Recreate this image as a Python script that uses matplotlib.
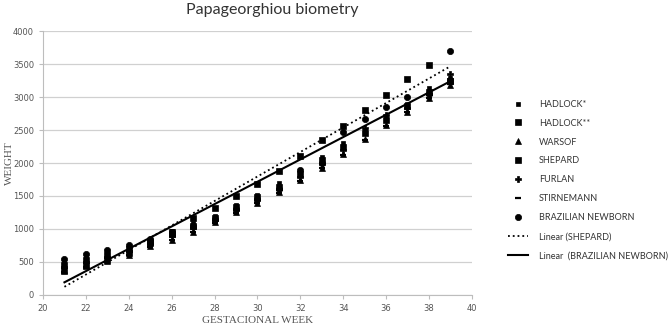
import numpy as np
import matplotlib
matplotlib.use("Agg")
import matplotlib.pyplot as plt

weeks = np.arange(21, 40)

hadlock1 = [480, 560, 640, 730, 840, 970, 1090, 1200, 1370, 1520, 1690, 1890, 2090, 2300, 2500, 2700, 2900, 3130, 3290]
hadlock2 = [450, 530, 610, 700, 810, 930, 1050, 1170, 1330, 1480, 1640, 1840, 2040, 2240, 2450, 2650, 2860, 3080, 3250]
warsof = [380, 450, 520, 610, 740, 840, 960, 1100, 1250, 1400, 1560, 1740, 1930, 2130, 2360, 2570, 2780, 2990, 3180]
shepard = [360, 440, 530, 640, 780, 960, 1170, 1320, 1500, 1680, 1880, 2100, 2350, 2560, 2800, 3030, 3270, 3480, 3250]
furlan = [420, 500, 570, 660, 780, 890, 1010, 1140, 1290, 1440, 1600, 1790, 1990, 2190, 2530, 2730, 2830, 3040, 3350]
stirnemann = [350, 430, 500, 600, 730, 830, 950, 1090, 1240, 1390, 1545, 1730, 1920, 2120, 2350, 2560, 2770, 2980, 3200]
brazilian = [540, 620, 680, 760, 850, 950, 1050, 1150, 1300, 1450, 1600, 1900, 2000, 2470, 2670, 2850, 3000, 3050, 3700]

series = [
    ("HADLOCK*", hadlock1, (4, 0, 45)),
    ("HADLOCK**", hadlock2, "s"),
    ("WARSOF", warsof, "^"),
    ("SHEPARD", shepard, "s"),
    ("FURLAN", furlan, "P"),
    ("STIRNEMANN", stirnemann, "_"),
    ("BRAZILIAN NEWBORN", brazilian, "o"),
]
sizes = [5, 4.5, 4.5, 5, 5, 5, 4.5]

fig = plt.figure(figsize=(6.72, 3.27), dpi=100)
ax = fig.add_axes([0.064, 0.098, 0.638, 0.807])

for (name, vals, mk), ms in zip(series, sizes):
    ax.plot(weeks, vals, linestyle="none", marker=mk, color="black", markersize=ms,
            markeredgewidth=1.6 if mk == "_" else 0.5, label=name)

# linear trend lines
for vals, ls, lw, name in [(shepard, ":", 1.3, "Linear (SHEPARD)"),
                           (brazilian, "-", 1.5, "Linear  (BRAZILIAN NEWBORN)")]:
    k, b = np.polyfit(weeks, vals, 1)
    ax.plot(weeks, k * weeks + b, linestyle=ls, color="black", linewidth=lw, label=name)

ax.set_xlim(20, 40)
ax.set_ylim(0, 4000)
ax.set_xticks(np.arange(20, 41, 2))
ax.set_yticks(np.arange(0, 4001, 500))
ax.grid(axis="y", color="#d0d0d0", linewidth=0.9)
ax.set_axisbelow(True)
for s in ["top", "right"]:
    ax.spines[s].set_visible(False)
for s in ["left", "bottom"]:
    ax.spines[s].set_color("#bdbdbd")
ax.tick_params(colors="#bdbdbd", labelcolor="#555555", labelsize=6, length=3)

ax.set_xlabel("GESTACIONAL WEEK", family="Liberation Serif", fontsize=8, color="#555555", labelpad=2)
ax.set_ylabel("WEIGHT", family="Liberation Serif", fontsize=8, color="#555555")
ax.yaxis.set_label_coords(-0.068, 0.5)
fig.suptitle("Papageorghiou biometry", x=0.405, y=0.99, fontsize=11.5, color="#333333", family="Lato")

leg = ax.legend(loc="upper left", bbox_to_anchor=(0.744, 0.72), bbox_transform=fig.transFigure,
                frameon=False, prop={"family": "Lato", "size": 6.5}, handlelength=2.2,
                labelspacing=1.1, handletextpad=1.2, labelcolor="#333333")

fig.savefig("out.png", dpi=100)
